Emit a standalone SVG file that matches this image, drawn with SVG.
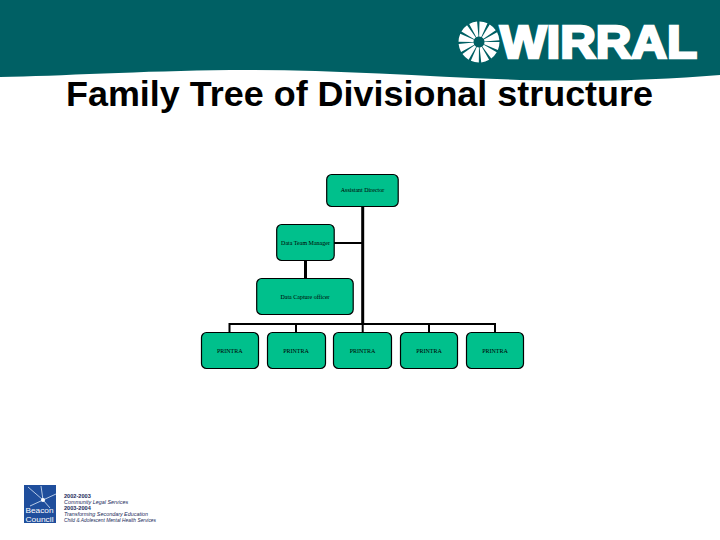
<svg xmlns="http://www.w3.org/2000/svg" width="720" height="540" viewBox="0 0 720 540">
<style>
.n{fill:#00c08c;stroke:#000;stroke-width:1.2}
.t{font-family:"Liberation Serif",serif;font-size:6px;text-anchor:middle;fill:#000}
.c{fill:none;stroke:#000}
.f{font-family:"Liberation Sans",sans-serif;font-size:5.4px;fill:#1a2a5a}
.fb{font-weight:bold;font-size:5.6px}
.fi{font-style:italic}
.bc{font-family:"Liberation Sans",sans-serif;font-size:7.3px;fill:#fff}
</style>
<rect width="720" height="540" fill="#fff"/>
<g id="header">
<path d="M0 0H720V75C660 80 590 82 520 80C420 76 320 69 230 70C140 71 60 76 0 77Z" fill="#006064"/>
<g id="logo-mark" fill="none" stroke="#fff">
<circle cx="479" cy="42" r="13" stroke-width="15" stroke-dasharray="5.2 1.6"/>
</g>
<text x="500" y="58" font-family="Liberation Sans,sans-serif" font-weight="bold" font-size="46" fill="#fff" stroke="#fff" stroke-width="2.6" textLength="197" lengthAdjust="spacingAndGlyphs">WIRRAL</text>
</g>
<text id="title" x="66" y="106" font-family="Liberation Sans,sans-serif" font-weight="bold" font-size="35.5" fill="#000" textLength="587" lengthAdjust="spacingAndGlyphs">Family Tree of Divisional structure</text>
<g id="connectors" class="c">
<path d="M362.7 206V325" stroke-width="3"/>
<path d="M334 243H362" stroke-width="2"/>
<path d="M305.5 261V278" stroke-width="3"/>
<path d="M229.5 332V324H495V332" stroke-width="2"/>
<path d="M296 324V332M429 324V332" stroke-width="2"/>
<path d="M362.7 324V332" stroke-width="2"/>
</g>
<g id="n-assistant"><rect class="n" x="326.7" y="174.5" width="71.5" height="32" rx="5"/><text class="t" x="362.5" y="192">Assistant Director</text></g>
<g id="n-manager"><rect class="n" x="276.7" y="224.5" width="57.5" height="36" rx="5"/><text class="t" x="305.5" y="245">Data Team Manager</text></g>
<g id="n-capture"><rect class="n" x="256.7" y="278.5" width="96.5" height="36" rx="5"/><text class="t" x="305" y="299">Data Capture officer</text></g>
<g id="n-p1"><rect class="n" x="201.5" y="332.5" width="57" height="36" rx="5"/><text class="t" x="229.8" y="353">PRINTRA</text></g>
<g id="n-p2"><rect class="n" x="267.5" y="332.5" width="58" height="36" rx="5"/><text class="t" x="296" y="353">PRINTRA</text></g>
<g id="n-p3"><rect class="n" x="333.5" y="332.5" width="58" height="36" rx="5"/><text class="t" x="362.5" y="353">PRINTRA</text></g>
<g id="n-p4"><rect class="n" x="400.5" y="332.5" width="57" height="36" rx="5"/><text class="t" x="429" y="353">PRINTRA</text></g>
<g id="n-p5"><rect class="n" x="466.5" y="332.5" width="57" height="36" rx="5"/><text class="t" x="495" y="353">PRINTRA</text></g>
<g id="footer">
<rect x="24" y="485" width="32" height="38" fill="#1f4e9c"/>
<path d="M28 487L43 500L56 494M43 500L50 508M43 500L41 486M43 500L30 506" stroke="#dbe7f7" stroke-width=".8" fill="none"/>
<circle cx="43" cy="500" r="2" fill="#fff"/>
<text class="bc" x="25.5" y="513" textLength="28" lengthAdjust="spacingAndGlyphs">Beacon</text>
<text class="bc" x="25.5" y="521.5" textLength="28" lengthAdjust="spacingAndGlyphs">Council</text>
<text class="f fb" x="64" y="498">2002-2003</text>
<text class="f fi" x="64" y="504">Community Legal Services</text>
<text class="f fb" x="64" y="509.5">2003-2004</text>
<text class="f fi" x="64" y="516">Transforming Secondary Education</text>
<text class="f fi" x="64" y="522" textLength="92" lengthAdjust="spacingAndGlyphs">Child &amp; Adolescent Mental Health Services</text>
</g>
</svg>
